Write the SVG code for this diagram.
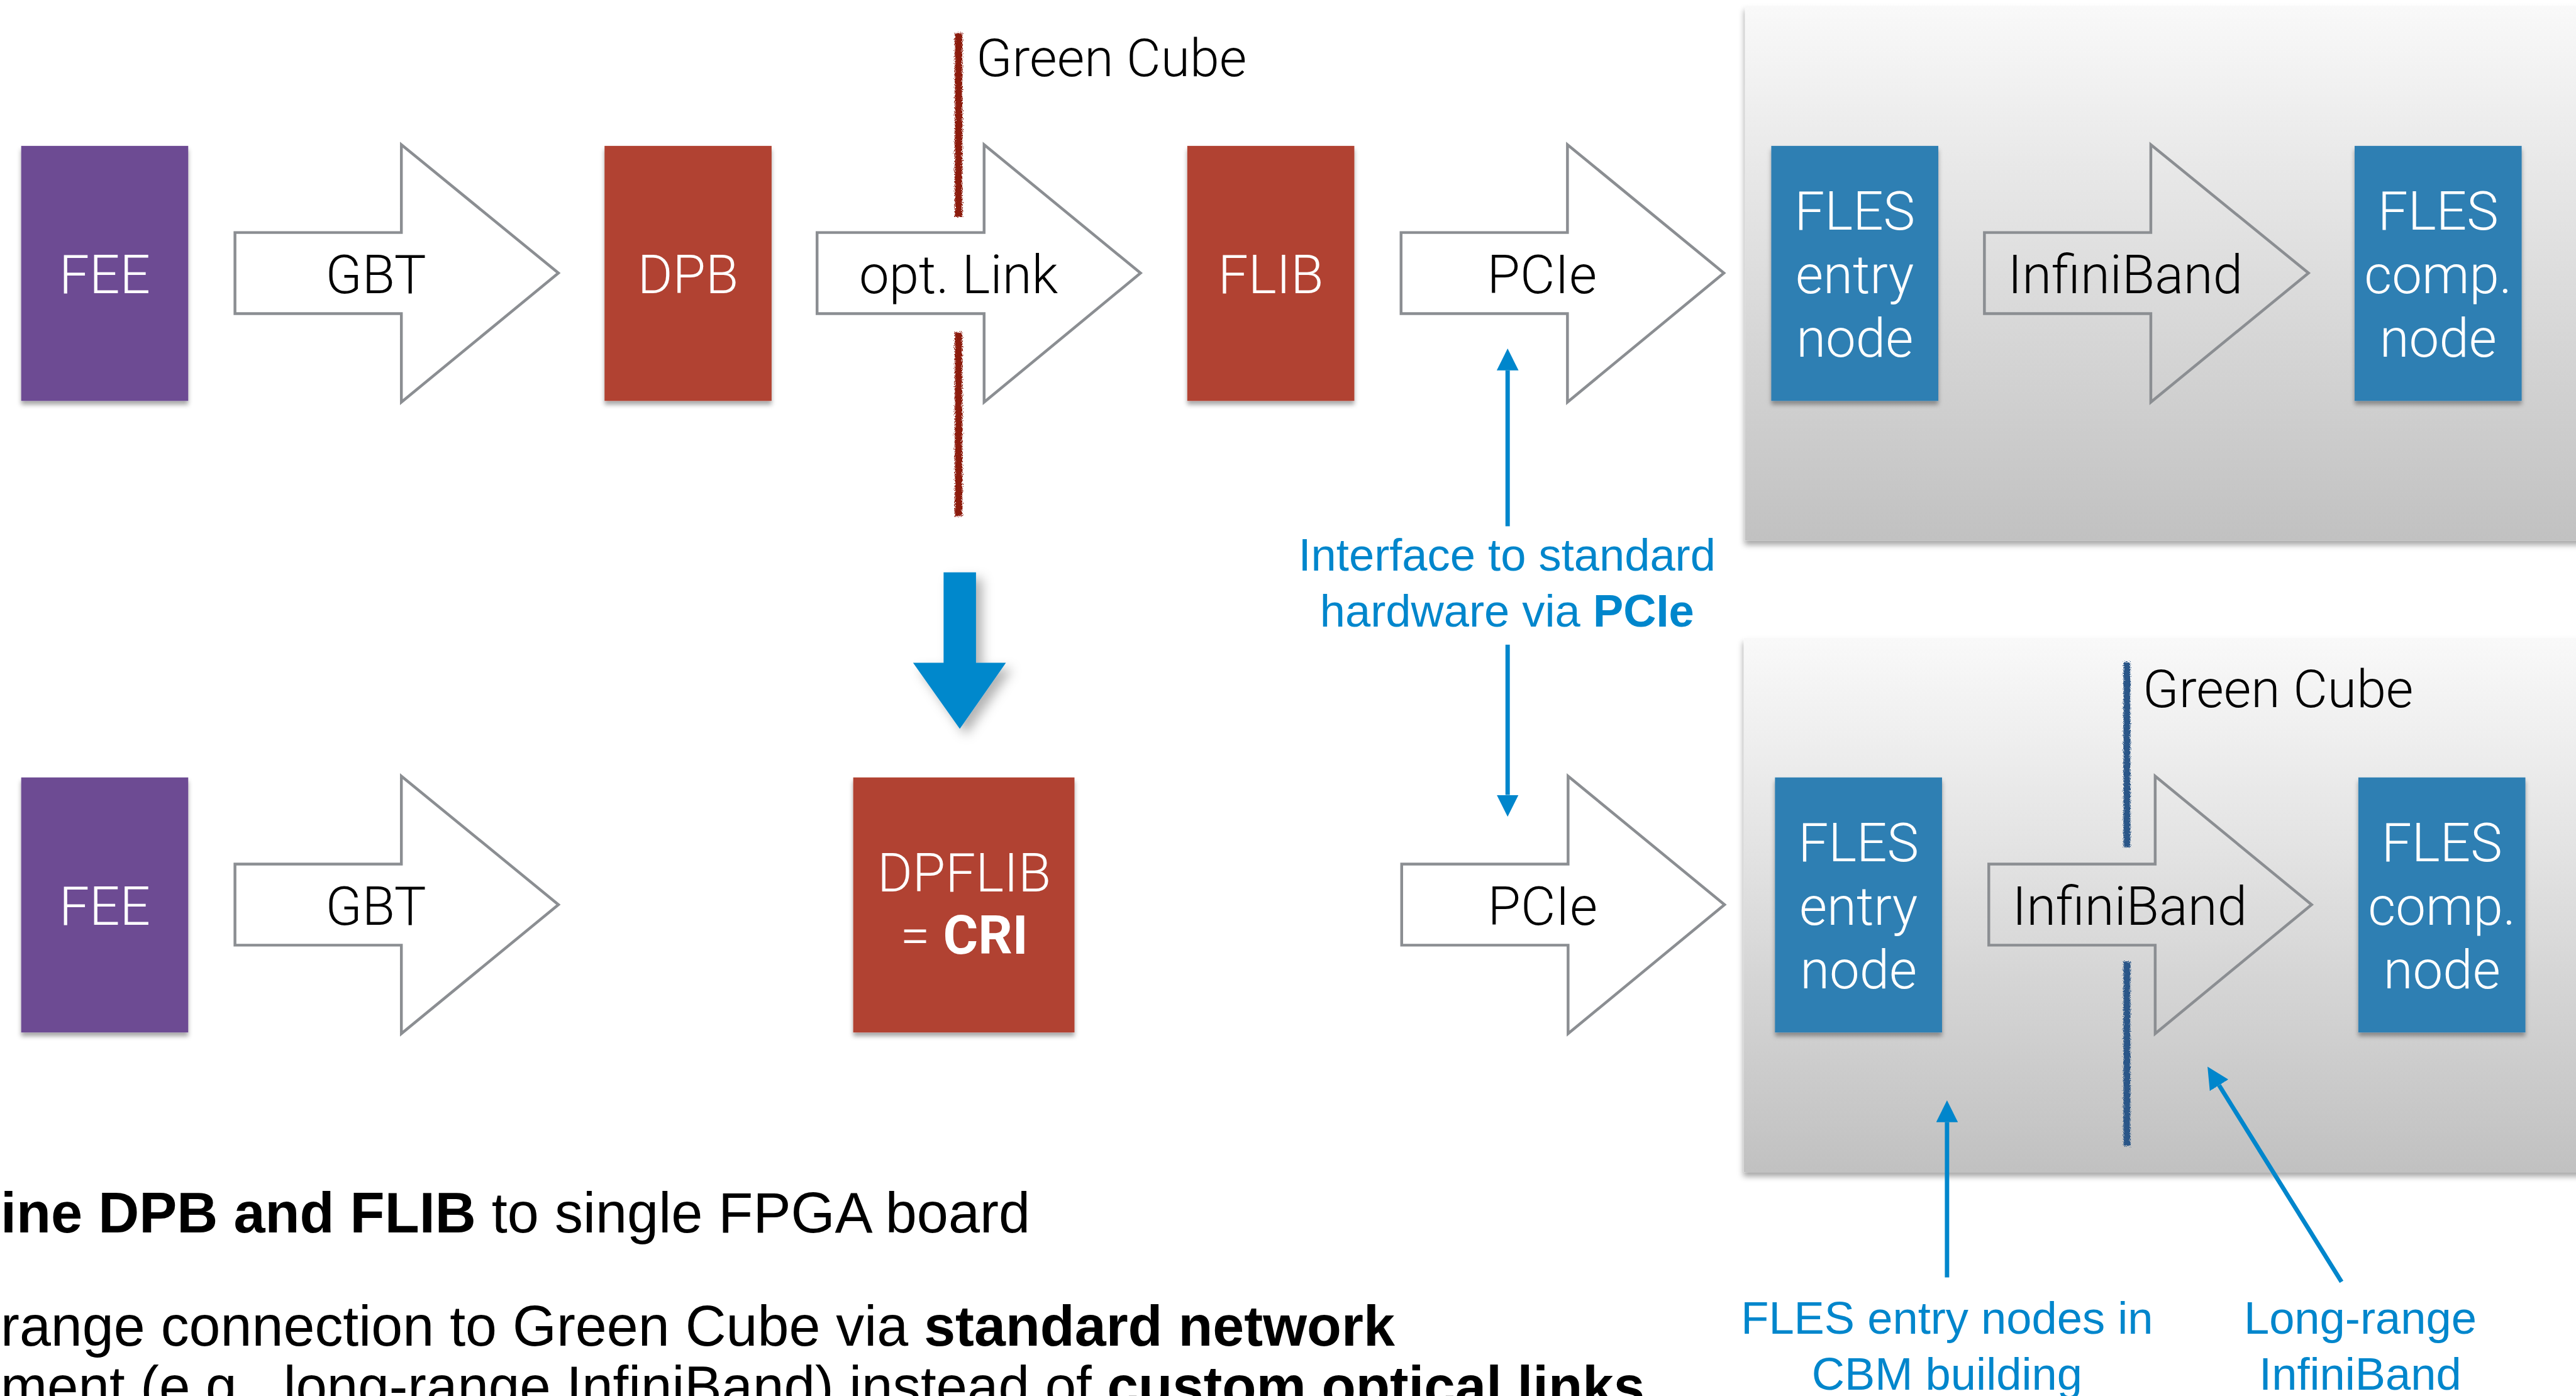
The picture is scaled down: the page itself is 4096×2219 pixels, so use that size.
<svg xmlns="http://www.w3.org/2000/svg" width="4096" height="2219" viewBox="0 0 4096 2219">
  <defs>
    <style>
      .lbl { font-family: Roboto, "Liberation Sans", sans-serif; font-weight: 300; font-size: 86px; text-anchor: middle; }
      .onbox { fill: #ffffff; }
      .onarrow { fill: #000000; }
      .flow { fill: none; stroke: #8b8e92; stroke-width: 4.5; stroke-linejoin: miter; }
      .note { font-family: "Liberation Sans", Arial, sans-serif; font-size: 73px; fill: #0086cc; text-anchor: middle; }
      .pointer { fill: none; stroke: #0086cc; stroke-width: 7; marker-end: url(#tip); }
      .body { font-family: "Liberation Sans", Arial, sans-serif; font-size: 91px; fill: #000000; }
      .cube { font-family: Roboto, "Liberation Sans", sans-serif; font-weight: 300; font-size: 85px; fill: #000000; }
      .purple { fill: #6d4b93; }
      .red { fill: #b14330; }
      .blue { fill: #2f7fb3; }
    </style>
    <linearGradient id="panelFill" x1="0" y1="0" x2="0" y2="1">
      <stop offset="0" stop-color="#f9f9f9"/>
      <stop offset="1" stop-color="#c1c1c1"/>
    </linearGradient>
    <filter id="boxShadow" x="-10%" y="-10%" width="120%" height="125%">
      <feDropShadow dx="0" dy="6" stdDeviation="4" flood-color="#000" flood-opacity="0.35"/>
    </filter>
    <filter id="panelShadow" x="-5%" y="-5%" width="110%" height="115%">
      <feDropShadow dx="-1" dy="7" stdDeviation="5" flood-color="#000" flood-opacity="0.35"/>
    </filter>
    <filter id="bigShadow" x="-30%" y="-20%" width="160%" height="150%">
      <feDropShadow dx="10" dy="10" stdDeviation="9" flood-color="#000" flood-opacity="0.3"/>
    </filter>
    <filter id="rough" x="-100%" y="-5%" width="300%" height="110%">
      <feTurbulence type="fractalNoise" baseFrequency="0.9" numOctaves="2" seed="3" result="noise"/>
      <feDisplacementMap in="SourceGraphic" in2="noise" scale="8" xChannelSelector="R" yChannelSelector="G"/>
    </filter>
    <marker id="tip" viewBox="0 0 10 10" refX="0" refY="5" markerWidth="5" markerHeight="5" orient="auto" markerUnits="strokeWidth">
      <path d="M0,0 L10,5 L0,10 z" fill="#0086cc"/>
    </marker>
  </defs>

  <rect width="4096" height="2219" fill="#ffffff"/>

  <g transform="scale(0.991)">
    <!-- grey FLES panels -->
    <g id="panel-top">
      <rect x="2800" y="9" width="1400" height="858" fill="url(#panelFill)" filter="url(#panelShadow)"/>
    </g>
    <g id="panel-bottom">
      <rect x="2798" y="1023" width="1400" height="857" fill="url(#panelFill)" filter="url(#panelShadow)"/>
    </g>

    <!-- Green Cube boundaries -->
    <g id="boundary-top">
      <rect x="1532" y="53" width="12" height="295" fill="#8c1a0f" filter="url(#rough)"/>
      <rect x="1532" y="533" width="12" height="295" fill="#8c1a0f" filter="url(#rough)"/>
      <text class="cube" x="1566" y="122">Green Cube</text>
    </g>
    <g id="boundary-bottom">
      <rect x="3407" y="1062" width="11" height="297" fill="#2a5688" filter="url(#rough)"/>
      <rect x="3407" y="1542" width="11" height="296" fill="#2a5688" filter="url(#rough)"/>
      <text class="cube" x="3438" y="1134" font-size="83">Green Cube</text>
    </g>

    <!-- row 1: current readout chain -->
    <g id="fee-1">
      <rect class="purple" x="34" y="234" width="268" height="409" filter="url(#boxShadow)"/>
      <text class="lbl onbox" x="168" y="470">FEE</text>
    </g>
    <g id="gbt-1">
      <path class="flow" d="M377,373 H644 V232 L896,438 L644,645 V503 H377 Z"/>
      <text class="lbl onarrow" x="603" y="470">GBT</text>
    </g>
    <g id="dpb">
      <rect class="red" x="970" y="234" width="268" height="409" filter="url(#boxShadow)"/>
      <text class="lbl onbox" x="1104" y="470">DPB</text>
    </g>
    <g id="optlink">
      <path class="flow" d="M1311,373 H1579 V232 L1830,438 L1579,645 V503 H1311 Z"/>
      <text class="lbl onarrow" x="1538" y="470">opt. Link</text>
    </g>
    <g id="flib">
      <rect class="red" x="1905" y="234" width="268" height="409" filter="url(#boxShadow)"/>
      <text class="lbl onbox" x="2039" y="470">FLIB</text>
    </g>
    <g id="pcie-1">
      <path class="flow" d="M2248,373 H2515 V232 L2766,438 L2515,645 V503 H2248 Z"/>
      <text class="lbl onarrow" x="2474" y="470">PCIe</text>
    </g>
    <g id="entry-1">
      <rect class="blue" x="2842" y="234" width="268" height="409" filter="url(#boxShadow)"/>
      <text class="lbl onbox" x="2976" y="368">FLES</text>
      <text class="lbl onbox" x="2976" y="470">entry</text>
      <text class="lbl onbox" x="2976" y="572">node</text>
    </g>
    <g id="ib-1">
      <path class="flow" d="M3184,373 H3451 V232 L3704,438 L3451,645 V503 H3184 Z"/>
      <text class="lbl onarrow" x="3410" y="470">InfiniBand</text>
    </g>
    <g id="comp-1">
      <rect class="blue" x="3778" y="234" width="268" height="409" filter="url(#boxShadow)"/>
      <text class="lbl onbox" x="3912" y="368">FLES</text>
      <text class="lbl onbox" x="3912" y="470">comp.</text>
      <text class="lbl onbox" x="3912" y="572">node</text>
    </g>

    <!-- transition arrow -->
    <g id="merge-arrow">
      <polygon points="1514,918 1566,918 1566,1063 1614,1063 1540,1169 1465,1063 1514,1063" fill="#0088cc" filter="url(#bigShadow)"/>
    </g>

    <!-- row 2: combined board -->
    <g id="fee-2">
      <rect class="purple" x="34" y="1247" width="268" height="409" filter="url(#boxShadow)"/>
      <text class="lbl onbox" x="168" y="1483">FEE</text>
    </g>
    <g id="gbt-2">
      <path class="flow" d="M377,1386 H644 V1245 L896,1451 L644,1658 V1516 H377 Z"/>
      <text class="lbl onarrow" x="603" y="1483">GBT</text>
    </g>
    <g id="cri">
      <rect class="red" x="1369" y="1247" width="355" height="409" filter="url(#boxShadow)"/>
      <text class="lbl onbox" x="1547" y="1430">DPFLIB</text>
      <text class="lbl onbox" x="1547" y="1530">= <tspan font-weight="700">CRI</tspan></text>
    </g>
    <g id="pcie-2">
      <path class="flow" d="M2249,1386 H2516 V1245 L2767,1451 L2516,1658 V1516 H2249 Z"/>
      <text class="lbl onarrow" x="2475" y="1483">PCIe</text>
    </g>
    <g id="entry-2">
      <rect class="blue" x="2848" y="1247" width="268" height="409" filter="url(#boxShadow)"/>
      <text class="lbl onbox" x="2982" y="1381">FLES</text>
      <text class="lbl onbox" x="2982" y="1483">entry</text>
      <text class="lbl onbox" x="2982" y="1585">node</text>
    </g>
    <g id="ib-2">
      <path class="flow" d="M3191,1386 H3458 V1245 L3709,1451 L3458,1658 V1516 H3191 Z"/>
      <text class="lbl onarrow" x="3417" y="1483">InfiniBand</text>
    </g>
    <g id="comp-2">
      <rect class="blue" x="3784" y="1247" width="268" height="409" filter="url(#boxShadow)"/>
      <text class="lbl onbox" x="3918" y="1381">FLES</text>
      <text class="lbl onbox" x="3918" y="1483">comp.</text>
      <text class="lbl onbox" x="3918" y="1585">node</text>
    </g>

    <!-- annotation pointers -->
    <g id="connectors">
      <path class="pointer" d="M2419,844 L2419,594"/>
      <path class="pointer" d="M2419,1034 L2419,1275"/>
      <path class="pointer" d="M3124,2049 L3124,1800"/>
      <path class="pointer" d="M3757,2056 L3560.5,1740.7"/>
    </g>

    <!-- annotation texts -->
    <g id="note-pcie">
      <text class="note" x="2418" y="915">Interface to standard</text>
      <text class="note" x="2418" y="1005">hardware via <tspan font-weight="700">PCIe</tspan></text>
    </g>
    <g id="note-entry">
      <text class="note" x="3124" y="2139">FLES entry nodes in</text>
      <text class="note" x="3124" y="2229">CBM building</text>
    </g>
    <g id="note-longrange">
      <text class="note" x="3787" y="2139">Long-range</text>
      <text class="note" x="3787" y="2229">InfiniBand</text>
    </g>

    <!-- bullet text -->
    <g id="bullets">
      <text class="body" x="1" y="1977" textLength="1652" lengthAdjust="spacingAndGlyphs"><tspan font-weight="700">ine DPB and FLIB</tspan> to single FPGA board</text>
      <text class="body" x="1" y="2158" textLength="2237" lengthAdjust="spacingAndGlyphs">range connection to Green Cube via <tspan font-weight="700">standard network</tspan></text>
      <text class="body" x="1" y="2255" textLength="2638" lengthAdjust="spacingAndGlyphs">ment (e.g., long-range InfiniBand) instead of <tspan font-weight="700">custom optical links</tspan></text>
    </g>
  </g>
</svg>
